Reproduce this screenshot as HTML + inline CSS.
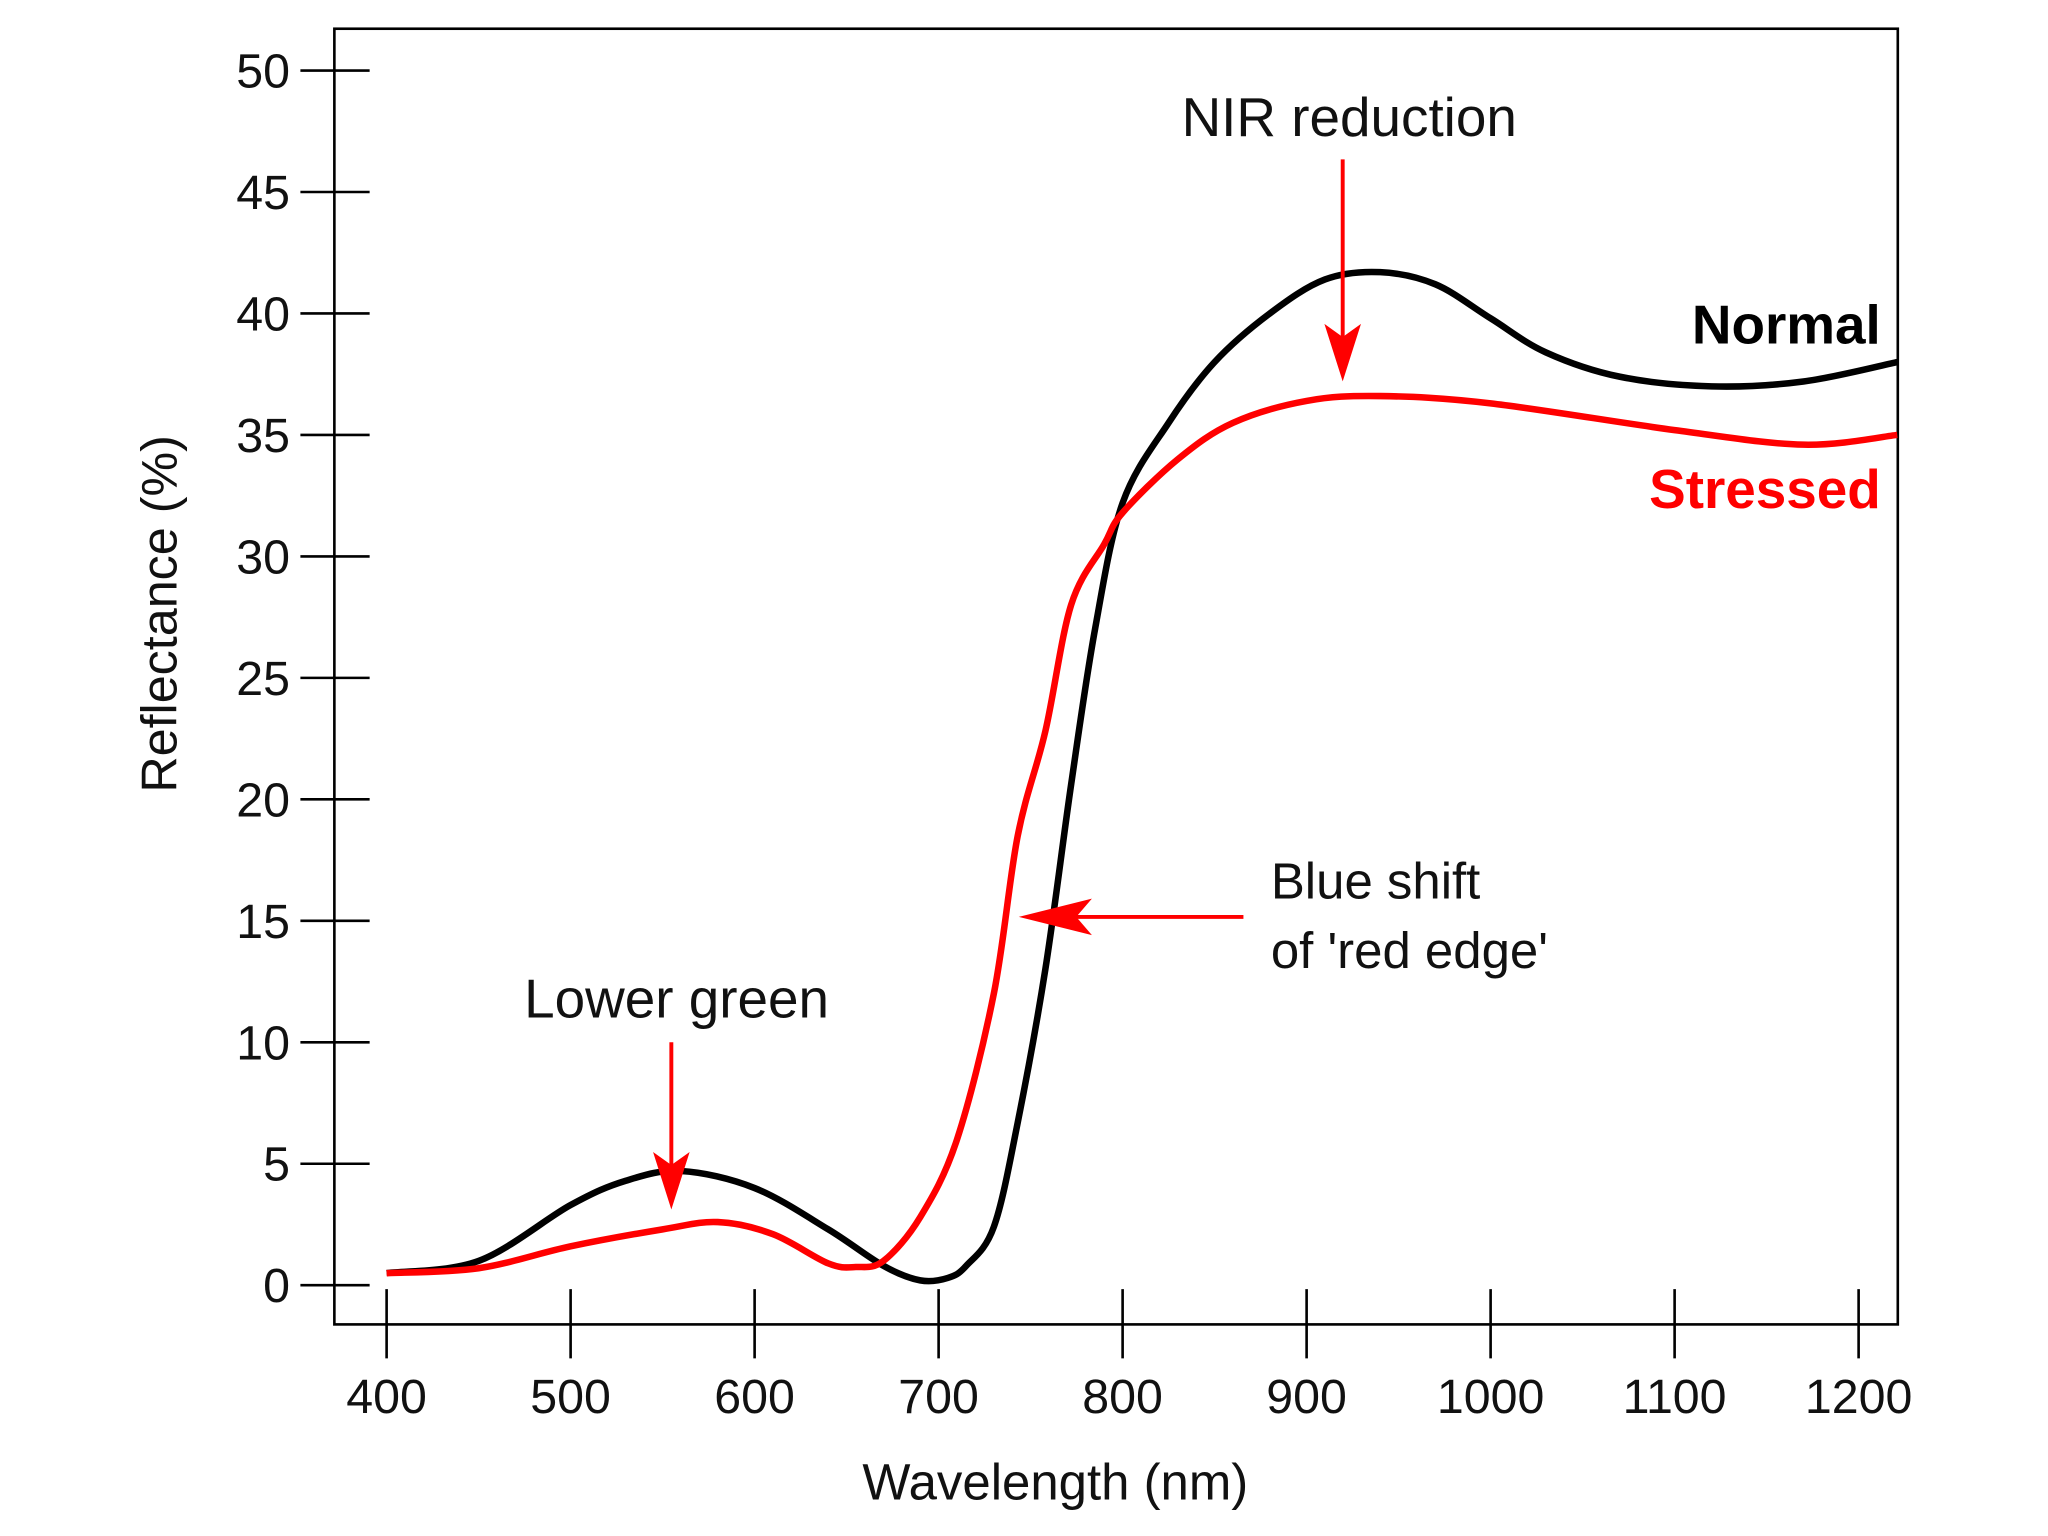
<!DOCTYPE html>
<html><head><meta charset="utf-8"><style>
html,body{margin:0;padding:0;background:#fff;}
svg{display:block;font-family:"Liberation Sans",Arial,sans-serif;}
</style></head><body>
<svg id="chart" width="2048" height="1536" viewBox="0 0 1568 1176" xmlns="http://www.w3.org/2000/svg">
<rect x="0" y="0" width="1568" height="1176" fill="#fff"/>
<rect x="256" y="22" width="1197" height="992" fill="none" stroke="#000" stroke-width="2"/>
<g id="axes"></g>
<g id="series"></g>
<text x="0" y="0" transform="translate(135,470) rotate(-90)" text-anchor="middle" font-size="38.5" fill="#111">Reflectance (%)</text>
<text x="808" y="1148" text-anchor="middle" font-size="39" fill="#111">Wavelength (nm)</text>
<text x="1033" y="104" text-anchor="middle" font-size="42" fill="#111">NIR reduction</text>
<line x1="1028" y1="122" x2="1028" y2="260" stroke="#f00" stroke-width="3"/>
<path d="M1028,292 L1014,248 L1028,258 L1042,248 Z" fill="#f00"/>
<text x="1440" y="263" text-anchor="end" font-size="42" font-weight="bold" fill="#000">Normal</text>
<text x="1440" y="389" text-anchor="end" font-size="42" font-weight="bold" fill="#f00">Stressed</text>
<text x="973" y="688" font-size="39" fill="#111">Blue shift</text>
<text x="973" y="741" font-size="39" fill="#111">of 'red edge'</text>
<line x1="952" y1="702" x2="820" y2="702" stroke="#f00" stroke-width="3"/>
<path d="M780,702 L836,688 L824,702 L836,716 Z" fill="#f00"/>
<text x="518" y="779" text-anchor="middle" font-size="42" fill="#111">Lower green</text>
<line x1="514" y1="798" x2="514" y2="895" stroke="#f00" stroke-width="3"/>
<path d="M514,926 L500,882 L514,892 L528,882 Z" fill="#f00"/>
</svg>
<script>
const yTicks=[0,5,10,15,20,25,30,35,40,45,50];
const xTicks=[400,500,600,700,800,900,1000,1100,1200];
const normalX=[400,450,500,530,560,600,640,670,690,705,715,730,743,758,772,785,800,825,850,880,910,940,970,1000,1030,1070,1120,1170,1221];
const normalY=[0.5,1.0,3.3,4.3,4.7,4.0,2.3,0.8,0.2,0.3,0.8,2.4,6.7,13,20.6,27,32.2,35.5,38,40,41.4,41.7,41.2,39.8,38.4,37.4,37.0,37.2,38.0];
const stressX=[400,450,500,550,580,610,640,655,670,690,710,730,743,758,772,790,800,830,860,900,940,1000,1100,1170,1221];
const stressY=[0.5,0.7,1.6,2.3,2.6,2.1,0.9,0.75,1.0,2.8,6.0,12,18.5,22.8,28,30.5,31.8,34,35.5,36.4,36.6,36.3,35.2,34.6,35.0];
const sx=v=>296+(v-400)*(1423-296)/800;
const sy=v=>984-v*(984-54)/50;
const NS="http://www.w3.org/2000/svg";
const axes=document.getElementById('axes');
function mk(t,a){const e=document.createElementNS(NS,t);for(const k in a)e.setAttribute(k,a[k]);return e;}
yTicks.forEach(v=>{
 const l=mk('line',{x1:230,x2:283,y1:sy(v),y2:sy(v),stroke:'#000','stroke-width':2});
 
 
 axes.appendChild(l);
 const t=mk('text',{x:222,y:sy(v)+13,'text-anchor':'end','font-size':37,fill:'#111'});
 t.textContent=v;
 
 
 axes.appendChild(t);
});
xTicks.forEach(v=>{
 const l=mk('line',{x1:sx(v),x2:sx(v),y1:987,y2:1040,stroke:'#000','stroke-width':2});
 
 
 axes.appendChild(l);
 const t=mk('text',{x:sx(v),y:1082,'text-anchor':'middle','font-size':37,fill:'#111'});
 t.textContent=v;
 
 
 axes.appendChild(t);
});
function path(xs,ys){
 const p=xs.map((x,i)=>[sx(x),sy(ys[i])]);
 let d='M'+p[0][0]+','+p[0][1];
 for(let i=0;i<p.length-1;i++){
  const p0=p[Math.max(i-1,0)],p1=p[i],p2=p[i+1],p3=p[Math.min(i+2,p.length-1)];
  const c1=[p1[0]+(p2[0]-p0[0])/6,p1[1]+(p2[1]-p0[1])/6];
  const c2=[p2[0]-(p3[0]-p1[0])/6,p2[1]-(p3[1]-p1[1])/6];
  d+=` C${c1[0]},${c1[1]} ${c2[0]},${c2[1]} ${p2[0]},${p2[1]}`;
 }
 return d;
}
const g=document.getElementById('series');
const n=mk('path',{d:path(normalX,normalY),fill:'none',stroke:'#000','stroke-width':5,'stroke-linejoin':'round'});


g.appendChild(n);
const s=mk('path',{d:path(stressX,stressY),fill:'none',stroke:'#f00','stroke-width':5,'stroke-linejoin':'round'});


g.appendChild(s);
</script>
</body></html>
